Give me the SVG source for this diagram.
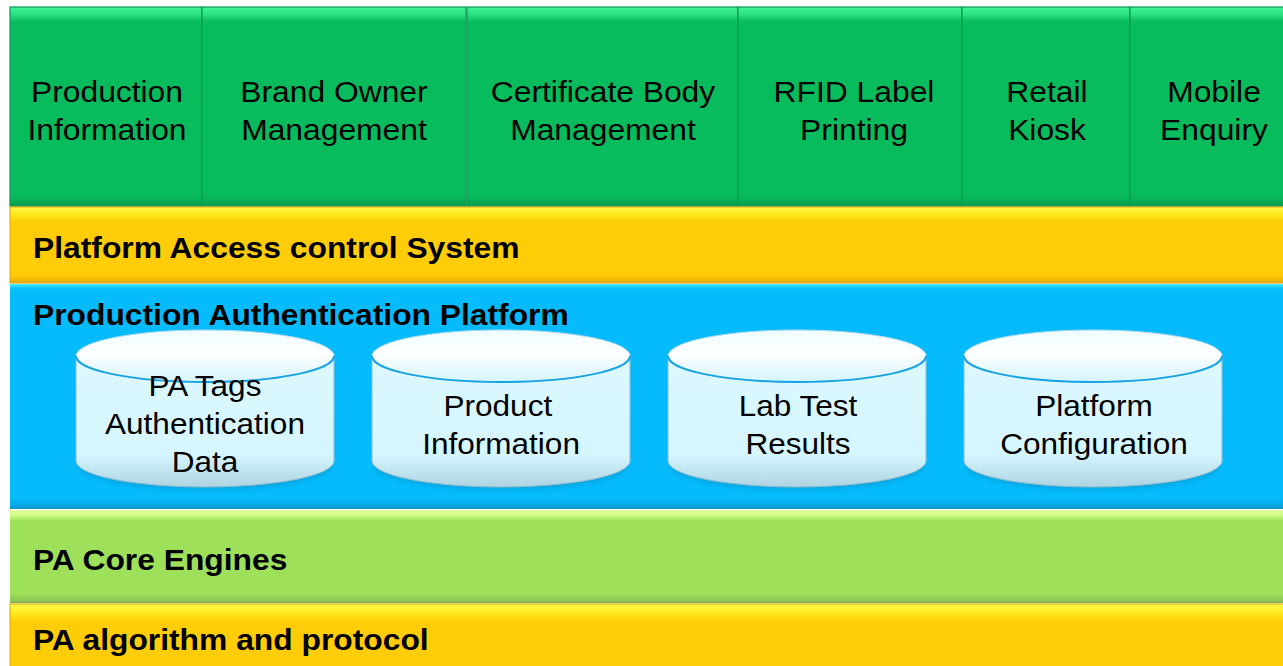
<svg xmlns="http://www.w3.org/2000/svg" width="1283" height="666" viewBox="0 0 1283 666">
  <defs>
    <!-- bevelled band fills: light top lip, flat body, darker bottom lip -->
    <linearGradient id="gGreen" x1="0" y1="0" x2="0" y2="1">
      <stop offset="0" stop-color="#40f595"/>
      <stop offset="0.035" stop-color="#2ee286"/>
      <stop offset="0.075" stop-color="#08bb5c"/>
      <stop offset="0.95" stop-color="#08bb5c"/>
      <stop offset="1" stop-color="#079c4c"/>
    </linearGradient>
    <linearGradient id="gYellow" x1="0" y1="0" x2="0" y2="1">
      <stop offset="0" stop-color="#fff84a"/>
      <stop offset="0.1" stop-color="#ffe820"/>
      <stop offset="0.2" stop-color="#ffcc08"/>
      <stop offset="0.9" stop-color="#ffcc08"/>
      <stop offset="1" stop-color="#e9a908"/>
    </linearGradient>
    <linearGradient id="gYellow2" x1="0" y1="0" x2="0" y2="1">
      <stop offset="0" stop-color="#fff84a"/>
      <stop offset="0.12" stop-color="#ffec22"/>
      <stop offset="0.25" stop-color="#ffcc08"/>
      <stop offset="0.9" stop-color="#ffcc08"/>
      <stop offset="1" stop-color="#f0b808"/>
    </linearGradient>
    <linearGradient id="gBlue" x1="0" y1="0" x2="0" y2="1">
      <stop offset="0" stop-color="#4ae8ff"/>
      <stop offset="0.02" stop-color="#08c2fc"/>
      <stop offset="0.04" stop-color="#05bbfb"/>
      <stop offset="0.95" stop-color="#05bbfb"/>
      <stop offset="0.985" stop-color="#04a8e4"/>
      <stop offset="1" stop-color="#0a90c0"/>
    </linearGradient>
    <linearGradient id="gLime" x1="0" y1="0" x2="0" y2="1">
      <stop offset="0" stop-color="#e6ffa0"/>
      <stop offset="0.05" stop-color="#d2fb8a"/>
      <stop offset="0.12" stop-color="#9fe05b"/>
      <stop offset="0.9" stop-color="#9fe05b"/>
      <stop offset="0.98" stop-color="#8cc454"/>
      <stop offset="1" stop-color="#7ea850"/>
    </linearGradient>
    <!-- database cylinder shading -->
    <linearGradient id="gCylBody" x1="0" y1="0" x2="0" y2="1">
      <stop offset="0" stop-color="#dcf8ff"/>
      <stop offset="0.75" stop-color="#d6f6ff"/>
      <stop offset="1" stop-color="#aed4e2"/>
    </linearGradient>
    <linearGradient id="gCylTop" x1="0" y1="0" x2="0" y2="1">
      <stop offset="0" stop-color="#eefcff"/>
      <stop offset="0.45" stop-color="#ffffff"/>
      <stop offset="1" stop-color="#d4f4ff"/>
    </linearGradient>
    <filter id="soft" x="-10%" y="-10%" width="120%" height="130%">
      <feGaussianBlur stdDeviation="2"/>
    </filter>
  </defs>
  <style>
    .app { fill: url(#gGreen); stroke: #0a9a4e; stroke-width: 1.2; }
    .lbl { font-family: "Liberation Sans", Arial, sans-serif; font-size: 30px; fill: #000; text-anchor: middle; }
    .band-title { font-family: "Liberation Sans", Arial, sans-serif; font-size: 30px; font-weight: bold; fill: #000; }
    .cyl-body { fill: url(#gCylBody); stroke: #8fbccd; stroke-width: 1; }
    .cyl-top { fill: url(#gCylTop); stroke: #b5dbe8; stroke-width: 1; }
    .cyl-rim { fill: none; stroke: #17a2e2; stroke-width: 2; }
    .cyl-text { font-family: "Liberation Sans", Arial, sans-serif; font-size: 29.5px; fill: #000; text-anchor: middle; }
  </style>

  <rect width="1283" height="666" fill="#ffffff"/>

  <!-- application tiles (labels set slightly wide) -->
  <g id="app-production-information">
    <rect class="app" x="10" y="7" width="192" height="199"/>
    <g transform="matrix(1.06 0 0 1 -6.42 0)">
      <text class="lbl" x="107" y="102">Production</text>
      <text class="lbl" x="107" y="140">Information</text>
    </g>
  </g>
  <g id="app-brand-owner">
    <rect class="app" x="202" y="7" width="264" height="199"/>
    <g transform="matrix(1.06 0 0 1 -20.04 0)">
      <text class="lbl" x="334" y="102">Brand Owner</text>
      <text class="lbl" x="334" y="140">Management</text>
    </g>
  </g>
  <g id="app-certificate-body">
    <rect class="app" x="467" y="7" width="271" height="199"/>
    <g transform="matrix(1.06 0 0 1 -36.18 0)">
      <text class="lbl" x="603" y="102">Certificate Body</text>
      <text class="lbl" x="603" y="140">Management</text>
    </g>
  </g>
  <g id="app-rfid-label">
    <rect class="app" x="738" y="7" width="224" height="199"/>
    <g transform="matrix(1.06 0 0 1 -51.24 0)">
      <text class="lbl" x="854" y="102">RFID Label</text>
      <text class="lbl" x="854" y="140">Printing</text>
    </g>
  </g>
  <g id="app-retail-kiosk">
    <rect class="app" x="962" y="7" width="168" height="199"/>
    <g transform="matrix(1.06 0 0 1 -62.82 0)">
      <text class="lbl" x="1047" y="102">Retail</text>
      <text class="lbl" x="1047" y="140">Kiosk</text>
    </g>
  </g>
  <g id="app-mobile-enquiry">
    <rect class="app" x="1130" y="7" width="170" height="199"/>
    <g transform="matrix(1.06 0 0 1 -72.84 0)">
      <text class="lbl" x="1214" y="102">Mobile</text>
      <text class="lbl" x="1214" y="140">Enquiry</text>
    </g>
  </g>

  <!-- access control layer -->
  <g id="layer-access-control">
    <rect x="10" y="207" width="1290" height="76" fill="url(#gYellow)" stroke="#d9a300" stroke-width="1"/>
    <text class="band-title" x="33" y="258" transform="matrix(1.06 0 0 1 -1.98 0)">Platform Access control System</text>
  </g>

  <!-- authentication platform with its data stores -->
  <g id="layer-platform">
    <rect x="10" y="284" width="1290" height="225" fill="url(#gBlue)"/>
    <text class="band-title" x="33" y="325" transform="matrix(1.06 0 0 1 -1.98 0)">Production Authentication Platform</text>
  </g>

  <g id="db-pa-tags">
    <ellipse cx="205" cy="466" rx="127" ry="24" fill="#0a7fb0" opacity="0.35" filter="url(#soft)"/>
    <path class="cyl-body" d="M76,356 L76,461 A129,26 0 0 0 334,461 L334,356 Z"/>
    <ellipse class="cyl-top" cx="205" cy="356" rx="129" ry="26"/>
    <path class="cyl-rim" d="M76,356 A129,26 0 0 0 334,356"/>
    <g transform="matrix(1.07 0 0 1 -14.35 0)">
      <text class="cyl-text" x="205" y="396">PA Tags</text>
      <text class="cyl-text" x="205" y="434">Authentication</text>
      <text class="cyl-text" x="205" y="472">Data</text>
    </g>
  </g>
  <g id="db-product-information">
    <ellipse cx="501" cy="466" rx="127" ry="24" fill="#0a7fb0" opacity="0.35" filter="url(#soft)"/>
    <path class="cyl-body" d="M372,356 L372,461 A129,26 0 0 0 630,461 L630,356 Z"/>
    <ellipse class="cyl-top" cx="501" cy="356" rx="129" ry="26"/>
    <path class="cyl-rim" d="M372,356 A129,26 0 0 0 630,356"/>
    <g transform="matrix(1.07 0 0 1 -35 0)">
      <text class="cyl-text" x="498" y="416">Product</text>
      <text class="cyl-text" x="501" y="454">Information</text>
    </g>
  </g>
  <g id="db-lab-test">
    <ellipse cx="797" cy="466" rx="127" ry="24" fill="#0a7fb0" opacity="0.35" filter="url(#soft)"/>
    <path class="cyl-body" d="M668,356 L668,461 A129,26 0 0 0 926,461 L926,356 Z"/>
    <ellipse class="cyl-top" cx="797" cy="356" rx="129" ry="26"/>
    <path class="cyl-rim" d="M668,356 A129,26 0 0 0 926,356"/>
    <g transform="matrix(1.07 0 0 1 -55.86 0)">
      <text class="cyl-text" x="798" y="416">Lab Test</text>
      <text class="cyl-text" x="798" y="454">Results</text>
    </g>
  </g>
  <g id="db-platform-configuration">
    <ellipse cx="1093" cy="466" rx="127" ry="24" fill="#0a7fb0" opacity="0.35" filter="url(#soft)"/>
    <path class="cyl-body" d="M964,356 L964,461 A129,26 0 0 0 1222,461 L1222,356 Z"/>
    <ellipse class="cyl-top" cx="1093" cy="356" rx="129" ry="26"/>
    <path class="cyl-rim" d="M964,356 A129,26 0 0 0 1222,356"/>
    <g transform="matrix(1.07 0 0 1 -76.58 0)">
      <text class="cyl-text" x="1094" y="416">Platform</text>
      <text class="cyl-text" x="1094" y="454">Configuration</text>
    </g>
  </g>

  <!-- core engines layer -->
  <g id="layer-core-engines">
    <rect x="10" y="510" width="1290" height="93" fill="url(#gLime)"/>
    <text class="band-title" x="33" y="570" transform="matrix(1.06 0 0 1 -1.98 0)">PA Core Engines</text>
  </g>

  <!-- algorithm and protocol layer -->
  <g id="layer-algorithm">
    <rect x="10" y="604" width="1290" height="70" fill="url(#gYellow2)" stroke="#d9a300" stroke-width="1"/>
    <text class="band-title" x="33" y="650" transform="matrix(1.06 0 0 1 -1.98 0)">PA algorithm and protocol</text>
  </g>
</svg>
